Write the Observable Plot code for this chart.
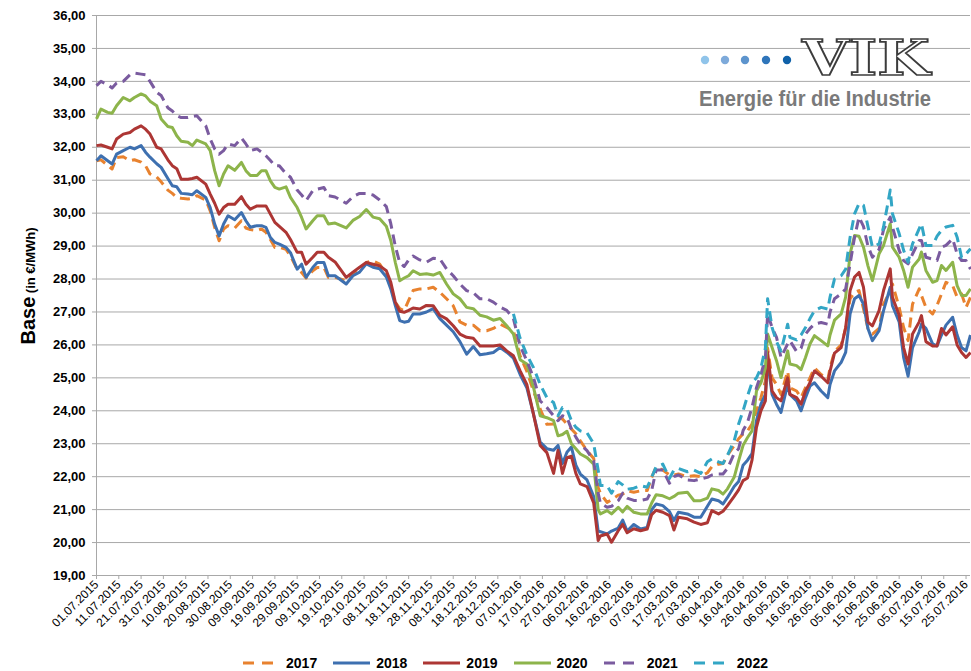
<!DOCTYPE html>
<html><head><meta charset="utf-8">
<script src="https://cdn.jsdelivr.net/npm/d3@7"></script>
<script src="https://cdn.jsdelivr.net/npm/@observablehq/plot@0.6"></script>
<style>
body{margin:0;background:#fff;}
#wrap{position:relative;width:971px;height:671px;overflow:hidden;background:#fff;font-family:"Liberation Sans",Arial,sans-serif;}
#chart{position:absolute;left:0;top:0;}
#legend{position:absolute;left:0;top:653px;width:971px;height:20px;display:flex;justify-content:center;align-items:center;padding-left:40px;box-sizing:border-box;}
.item{display:flex;align-items:center;margin:0 8px;font-weight:bold;font-size:14px;color:#000;}
.item svg{margin-right:6px;}
#deco{position:absolute;left:0;top:0;pointer-events:none;}
</style></head>
<body><div id="wrap"><div id="chart"></div><div id="legend"></div>
<svg id="deco" width="971" height="671">
  <circle cx="705" cy="60" r="4.2" fill="#90c4ea"/>
  <circle cx="725" cy="60" r="4.2" fill="#7eaada"/>
  <circle cx="745" cy="60" r="4.2" fill="#5d94cd"/>
  <circle cx="766" cy="60" r="4.2" fill="#2f75ba"/>
  <circle cx="787" cy="60" r="4.2" fill="#0f61a9"/>
  <text x="802" y="74.5" textLength="128" lengthAdjust="spacingAndGlyphs" font-family="DejaVu Serif" font-weight="bold" font-size="48" fill="#fff" stroke="#3c3c3c" stroke-width="1.6">VIK</text>
  <text x="699" y="105.5" textLength="232" lengthAdjust="spacingAndGlyphs" font-family="Liberation Sans, Arial, sans-serif" font-weight="bold" font-size="22" fill="#7a7a7a">Energie für die Industrie</text>
  <text transform="translate(35,286) rotate(-90)" text-anchor="middle" font-family="Liberation Sans, Arial, sans-serif" font-weight="bold" fill="#000"><tspan font-size="20">Base</tspan><tspan font-size="13"> (in €/MWh)</tspan></text>
</svg>
</div>
<script>
const startDate = "2015-07-01";
const endDate = "2016-07-27";
// days since 01.07.2015 of each sampled trading day
const dayOffsets = [0,2,5,7,9,12,15,17,20,22,24,27,29,32,34,36,38,41,43,45,49,51,53,55,57,59,62,65,67,69,72,74,76,78,80,82,85,87,90,92,94,97,99,102,104,
107,112,115,118,121,124,127,130,132,134,136,138,140,142,145,148,151,154,157,160,163,166,169,172,175,178,181,184,187,190,193,196,199,202,
205,207,209,211,213,215,217,220,223,225,226,229,231,234,236,238,241,244,247,249,251,254,257,259,261,265,268,271,274,276,279,281,283,286,288,290,292,294,296,298,300,
301,303,305,307,310,311,314,316,318,320,322,325,328,329,331,334,336,338,340,342,344,346,348,351,353,356,357,360,362,364,366,369,370,372,375,377,379,381,384,386,388,390,392];

const v2017 = [31.59,31.62,31.45,31.34,31.69,31.71,31.59,31.62,31.55,31.44,31.19,31.1,30.95,30.7,30.6,30.48,30.45,30.43,30.45,30.53,30.4,30.07,29.57,29.16,29.52,29.62,29.55,29.77,29.55,29.5,29.47,29.52,29.42,29.2,28.96,28.96,28.9,28.7,28.3,28.2,28.03,28.25,28.35,28.35,28.05,
28.05,27.95,28.15,28.3,28.5,28.55,28.45,28.15,27.75,27.3,27.1,27.04,27.35,27.65,27.7,27.7,27.75,27.6,27.4,27.19,26.7,26.6,26.6,26.43,26.43,26.5,26.63,26.53,26.43,25.67,25.2,24.6,24.05,23.59,
23.6,23.8,23.75,23.6,23.45,23.3,23.09,22.79,22.55,21.67,21.5,21.22,21.3,21.44,21.47,21.57,21.53,21.57,21.58,21.98,22.3,22.2,22.05,22.05,22.08,22.0,22.03,22.0,22.12,22.3,22.38,22.4,22.65,22.94,23.15,23.3,23.39,23.6,24.0,24.4,24.9,
25.9,25.0,24.8,24.5,25.2,24.7,24.6,24.4,24.7,25.0,25.3,25.1,24.95,25.3,25.8,26.0,26.5,27.4,27.6,27.65,27.1,26.5,26.33,26.5,27.24,27.65,27.85,27.14,26.53,26.13,27.24,27.7,27.5,27.14,26.94,27.2,27.55,27.9,27.8,27.45,27.55,27.14,27.45];

const v2018 = [31.59,31.74,31.59,31.49,31.79,31.9,32.0,31.95,32.05,31.85,31.7,31.5,31.39,31.05,30.83,30.8,30.6,30.58,30.56,30.68,30.48,30.17,29.67,29.31,29.67,29.92,29.8,30.02,29.77,29.57,29.62,29.62,29.57,29.26,29.11,29.06,28.96,28.8,28.3,28.45,28.05,28.35,28.5,28.5,28.1,
28.1,27.85,28.1,28.21,28.46,28.36,28.31,28.06,27.7,27.2,26.74,26.69,26.72,26.94,26.94,27.0,27.1,26.8,26.6,26.4,26.1,25.72,25.95,25.7,25.73,25.77,25.92,25.78,25.6,25.1,24.7,23.9,23.05,22.85,
22.8,22.95,22.4,22.74,22.9,22.35,22.08,21.9,21.4,20.35,20.33,20.26,20.35,20.44,20.68,20.35,20.55,20.41,20.46,21.0,21.17,21.12,20.94,20.67,20.92,20.87,20.77,20.77,21.1,21.32,21.27,21.17,21.37,21.7,21.85,22.35,22.5,22.7,23.7,24.2,24.5,
25.52,24.5,24.2,23.95,24.8,24.5,24.3,24.0,24.4,24.75,24.85,24.6,24.4,24.8,25.21,25.47,25.77,26.94,27.4,27.5,27.24,26.5,26.13,26.43,27.04,27.75,27.19,26.7,25.62,25.05,25.92,26.4,26.63,26.5,26.03,25.97,26.3,26.6,26.84,26.3,25.92,25.82,26.3];

const v2019 = [32.05,32.07,32.0,31.95,32.25,32.4,32.45,32.55,32.65,32.55,32.4,32.0,31.95,31.62,31.44,31.35,31.03,31.03,31.05,31.09,30.88,30.58,30.3,29.97,30.17,30.27,30.27,30.5,30.27,30.12,30.22,30.22,30.22,29.97,29.72,29.6,29.42,29.2,28.81,28.81,28.45,28.66,28.81,28.81,28.66,
28.52,28.05,28.21,28.36,28.5,28.45,28.4,28.25,27.9,27.3,27.02,26.99,27.05,27.12,27.09,27.2,27.19,26.9,26.79,26.58,26.33,26.23,26.2,25.97,25.97,25.97,26.0,25.82,25.67,25.21,24.8,23.89,22.95,22.73,
22.1,22.8,22.1,22.58,22.62,22.1,21.78,21.7,21.2,20.06,20.2,20.26,20.01,20.36,20.55,20.3,20.42,20.36,20.41,20.85,20.98,20.92,20.82,20.38,20.77,20.72,20.62,20.55,20.6,20.97,20.87,20.95,21.12,21.4,21.6,21.88,21.96,22.5,23.5,24.0,24.3,
25.77,24.6,24.4,24.3,25.0,24.5,24.4,24.2,24.6,24.85,25.21,25.05,24.85,25.2,25.75,25.92,26.53,27.65,28.06,28.2,27.75,26.69,26.58,27.04,27.65,28.31,27.45,26.9,25.92,25.42,26.33,26.7,26.89,26.1,25.97,25.97,26.5,26.3,26.55,26.0,25.77,25.62,25.77];

const v2020 = [32.86,33.16,33.06,33.03,33.26,33.51,33.41,33.51,33.62,33.56,33.4,33.26,32.86,32.63,32.6,32.35,32.18,32.15,32.05,32.22,32.1,31.9,31.29,30.83,31.19,31.44,31.3,31.54,31.29,31.14,31.14,31.29,31.29,30.98,30.78,30.73,30.8,30.48,30.17,29.87,29.52,29.77,29.92,29.92,29.67,
29.7,29.55,29.78,29.9,30.11,29.88,29.83,29.6,29.17,28.51,27.95,28.03,28.1,28.25,28.14,28.16,28.12,28.2,27.85,27.55,27.4,27.14,27.1,26.9,26.85,26.75,26.8,26.58,26.33,25.55,25.42,24.71,23.85,23.79,
23.7,23.24,23.28,23.38,23.0,22.85,22.69,22.58,22.38,21.0,20.87,20.97,20.87,21.07,20.93,21.1,20.92,20.87,20.87,21.2,21.45,21.42,21.33,21.4,21.5,21.53,21.27,21.27,21.35,21.63,21.58,21.47,21.63,21.98,22.48,22.95,23.19,23.39,24.6,24.85,25.3,
26.33,25.92,25.52,25.01,25.82,25.42,25.37,25.25,25.62,26.03,26.28,26.13,25.97,26.3,26.75,26.94,27.45,28.77,29.32,29.3,28.97,28.4,27.95,28.77,29.02,29.68,28.97,28.66,28.26,27.75,28.36,28.61,28.82,28.26,27.9,27.95,28.41,28.26,28.51,27.8,27.5,27.5,27.7];

const v2021 = [33.87,34.0,33.9,33.8,33.95,34.0,34.2,34.25,34.22,34.2,34.0,33.67,33.57,33.2,33.1,32.96,32.9,32.9,32.93,32.96,32.65,32.25,31.95,31.79,31.9,32.1,32.05,32.28,32.1,31.9,31.95,31.85,31.74,31.6,31.44,31.44,31.2,31.09,30.7,30.55,30.38,30.68,30.73,30.78,30.53,
30.49,30.3,30.5,30.6,30.6,30.55,30.4,30.2,29.68,29.0,28.5,28.38,28.58,28.7,28.58,28.51,28.63,28.61,28.31,28.1,27.85,27.65,27.58,27.4,27.4,27.3,27.15,27.05,26.8,25.97,25.52,25.01,24.3,24.1,
23.85,23.7,23.85,23.8,23.45,23.2,22.99,22.79,22.48,21.5,21.2,21.07,21.1,21.27,21.5,21.35,21.28,21.28,21.32,21.58,22.2,22.2,21.8,22.0,22.05,21.9,21.88,21.93,21.98,22.05,22.08,22.08,22.25,22.7,22.85,23.4,23.65,24.1,24.7,25.1,25.6,
26.94,26.53,26.23,25.62,26.03,26.13,25.8,25.9,26.33,26.5,26.63,26.68,26.63,27.0,27.4,27.55,27.7,28.46,29.27,29.88,29.6,29.0,28.66,28.9,29.5,29.88,29.58,28.87,28.56,28.46,28.76,29.17,29.17,28.66,28.6,28.56,28.97,29.02,29.22,28.76,28.56,28.56,28.3];

// 2022 quotes start on 04.01.2016 (aligned with the last entries of dayOffsets)
const v2022 = [26.94,26.2,25.7,25.31,24.8,24.4,
24.25,23.85,24.1,24.05,23.7,23.5,23.39,23.33,23.0,22.2,21.73,21.73,21.5,21.85,21.75,21.62,21.65,21.73,21.68,21.98,22.3,22.38,21.95,22.2,22.25,22.15,22.2,22.1,22.45,22.54,22.45,22.4,22.65,23.09,23.6,24.0,24.45,24.85,25.0,25.3,25.9,
27.4,26.53,26.1,25.82,26.63,26.23,26.15,26.3,26.53,26.8,27.04,27.14,27.09,27.45,28.0,28.1,28.3,29.27,29.98,30.29,30.24,29.6,28.97,29.07,29.58,30.7,29.98,29.38,28.87,28.51,29.07,29.53,29.68,29.02,29.02,29.3,29.48,29.58,29.63,29.27,28.66,28.76,28.92];

const seriesNames = ["2017","2018","2019","2020","2021","2022"];
const seriesValues = [v2017, v2018, v2019, v2020, v2021, v2022];
const seriesColors = ["#e8822f","#3e70b0","#ad3634","#8db44b","#7a5b9f","#33a6c5"];
const seriesDashed = [true,false,false,false,true,true];
const yTicks = [19,20,21,22,23,24,25,26,27,28,29,30,31,32,33,34,35,36];
const xTickEveryDays = 10;

const start = new Date(startDate + "T00:00:00Z");
const end = new Date(endDate + "T00:00:00Z");
const xTicks = d3.utcDay.range(start, d3.utcDay.offset(end, 1), 1).filter((d, i) => i % xTickEveryDays === 0);

const rowsBySeries = seriesNames.map((name, i) => {
  const vals = seriesValues[i];
  const off = dayOffsets.length - vals.length;
  return vals.map((v, j) => ({date: d3.utcDay.offset(start, dayOffsets[off + j]), value: v, series: name}));
});

const fmtY = d => d.toFixed(2).replace(".", ",");
const fmtX = d3.utcFormat("%d.%m.%Y");
const dash = "10,6";

const chart = Plot.plot({
  width: 971,
  height: 650,
  marginLeft: 96,
  marginRight: 1,
  marginTop: 15,
  marginBottom: 75,
  style: {fontFamily: "Liberation Sans, Arial, sans-serif", background: "transparent", overflow: "visible", color: "#000"},
  x: {type: "utc", domain: [start, end]},
  y: {domain: [19, 36]},
  marks: [
    Plot.gridY(yTicks, {stroke: "#a8a8a8", strokeOpacity: 1, strokeWidth: 1}),
    Plot.ruleX([start], {stroke: "#a8a8a8", strokeWidth: 1}),
    Plot.axisY(yTicks, {tickSize: 4, tickPadding: 7, tickFormat: fmtY, fontSize: 13, fontWeight: "bold", stroke: "#a8a8a8", fill: "#000", label: null}),
    Plot.axisX(xTicks, {tickSize: 4, tickPadding: 3, tickRotate: -45, tickFormat: fmtX, fontSize: 12, stroke: "#a8a8a8", fill: "#000", label: null}),
    ...rowsBySeries.map((rows, i) => Plot.line(rows, {
      x: "date", y: "value",
      stroke: seriesColors[i], strokeWidth: 3,
      strokeDasharray: seriesDashed[i] ? dash : null,
      strokeLinejoin: "round", strokeLinecap: "butt"
    }))
  ]
});
document.getElementById("chart").appendChild(chart);

const legend = document.getElementById("legend");
seriesNames.forEach((name, i) => {
  const item = document.createElement("div");
  item.className = "item";
  const dashAttr = seriesDashed[i] ? ` stroke-dasharray="11,8"` : "";
  item.innerHTML = `<svg width="37" height="6"><line x1="0" y1="3" x2="37" y2="3" stroke="${seriesColors[i]}" stroke-width="3"${dashAttr}/></svg><span>${name}</span>`;
  legend.appendChild(item);
});
</script>
</body></html>
